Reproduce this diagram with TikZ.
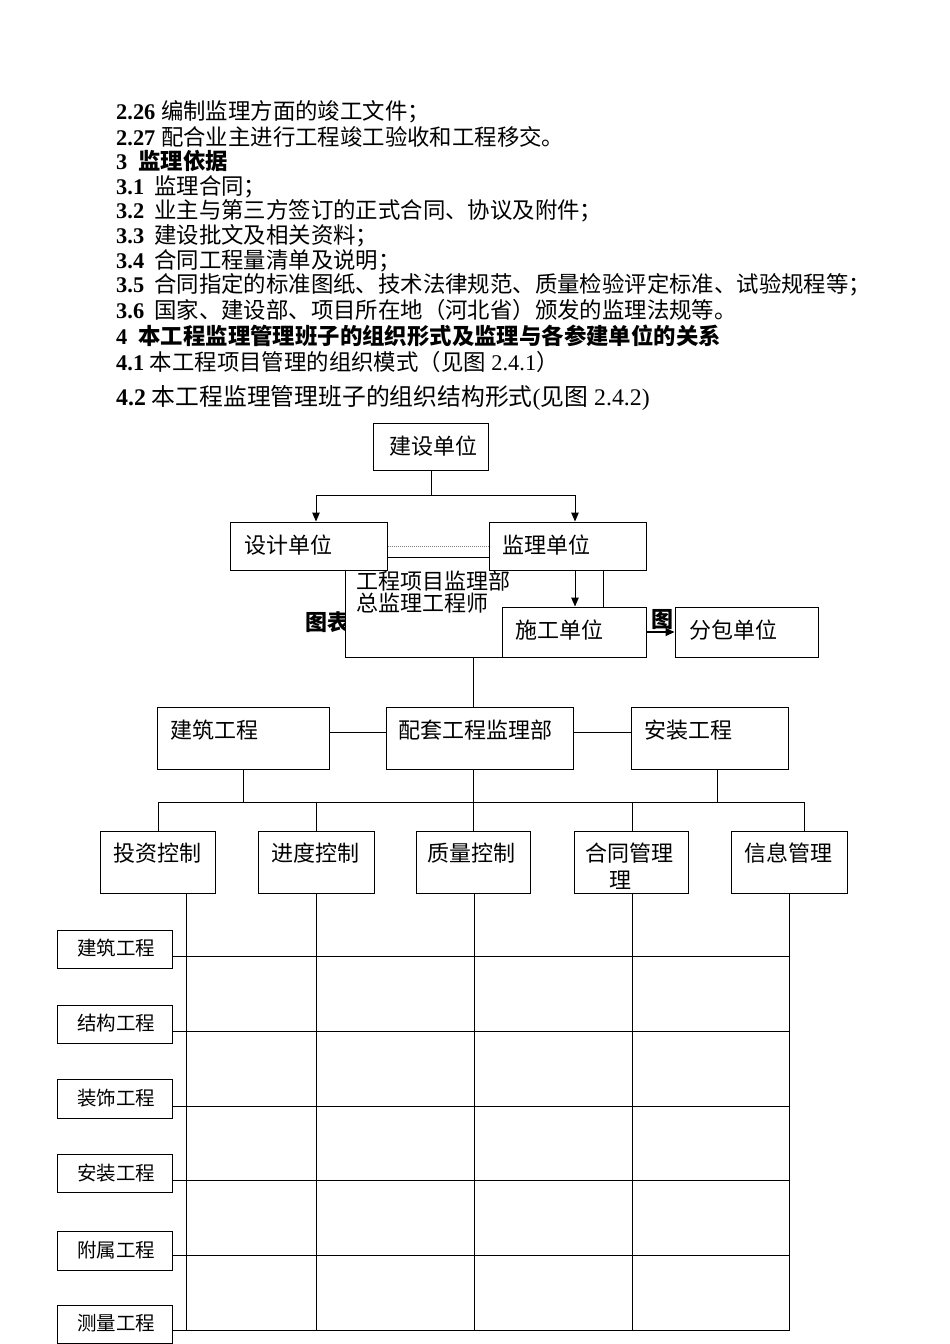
\documentclass[tikz,border=0pt]{standalone}
\usepackage{fontspec}
\setmainfont{Liberation Serif}
\newfontfamily\cjk{Noto Sans CJK SC}
\usetikzlibrary{arrows.meta,fit,calc}
\begin{document}
\begin{tikzpicture}[x=1pt,y=-1pt,
 box/.style={draw, fill=white, line width=1pt, inner sep=0pt},
 txt/.style={anchor=west, inner sep=0pt, font=\fontsize{22}{24}\selectfont\cjk},
 body/.style={anchor=west, inner sep=0pt, font=\fontsize{22.4}{25}\selectfont},
 small/.style={anchor=west, inner sep=0pt, font=\fontsize{19.5}{22}\selectfont\cjk},
 conn/.style={line width=1pt},
 arr/.style={line width=1pt, -{Triangle[length=9pt,width=7.5pt]}},
]
\useasboundingbox (0,0) rectangle (950,1344);
\fill[white] (0,0) rectangle (950,1344);

% ---------- body text ----------
\node[body] (p1) at (116,111.7) {\textbf{2.26} {\cjk 编制监理方面的竣工文件；}};
\node[body] (p2) at (116,136.7) {\textbf{2.27} {\cjk 配合业主进行工程竣工验收和工程移交。}};
\node[body] (p3) at (116,161) {\textbf{3}\hspace{11pt}{\cjk\bfseries 监理依据}};
\node[body] (p4) at (116,186.7) {\textbf{3.1}\hspace{10pt}{\cjk 监理合同；}};
\node[body] (p5) at (116,210.7) {\textbf{3.2}\hspace{10pt}{\cjk 业主与第三方签订的正式合同、协议及附件；}};
\node[body] (p6) at (116,235.7) {\textbf{3.3}\hspace{10pt}{\cjk 建设批文及相关资料；}};
\node[body] (p7) at (116,260.7) {\textbf{3.4}\hspace{10pt}{\cjk 合同工程量清单及说明；}};
\node[body] (p8) at (116,285) {\textbf{3.5}\hspace{10pt}{\cjk 合同指定的标准图纸、技术法律规范、质量检验评定标准、试验规程等；}};
\node[body] (p9) at (116,310) {\textbf{3.6}\hspace{10pt}{\cjk 国家、建设部、项目所在地（河北省）颁发的监理法规等。}};
\node[body] (p10) at (116,336) {\textbf{4}\hspace{11pt}{\cjk\bfseries 本工程监理管理班子的组织形式及监理与各参建单位的关系}};
\node[body] (p11) at (116,361.7) {\textbf{4.1} {\cjk 本工程项目管理的组织模式（见图} 2.4.1{\cjk ）}};
\node[body, font=\fontsize{23.8}{26}\selectfont] (p12) at (116,398.3) {\textbf{4.2} {\cjk 本工程监理管理班子的组织结构形式}({\cjk 见图} 2.4.2)};

% ---------- figure 2.4.1 ----------
\node[txt, font=\fontsize{22}{24}\selectfont\cjk\bfseries] (cap1) at (305,622) {图表};
\node[txt, font=\fontsize{22}{24}\selectfont\cjk\bfseries] (cap2) at (651,620) {图};

\node[box, fit={(345,557)(603,657)}] (xmb) {};
\node[txt] (xmbt1) at (356.5,581) {工程项目监理部};
\node[txt] (xmbt2) at (356.5,603) {总监理工程师};

\node[box, fit={(373.5,423)(488,470)}] (jsdw) {};
\node[txt] (jsdwt) at (389,446) {建设单位};
\node[box, fit={(230,522)(387,570)}] (sjdw) {};
\node[txt] (sjdwt) at (244,545) {设计单位};
\node[box, fit={(489,522)(646,570)}] (jldw) {};
\node[txt] (jldwt) at (502,545) {监理单位};
\node[box, fit={(502,607)(646,657)}] (sgdw) {};
\node[txt] (sgdwt) at (515,630) {施工单位};
\node[box, fit={(675,607)(818,657)}] (fbdw) {};
\node[txt] (fbdwt) at (689,630) {分包单位};

\coordinate (bm) at (431,495);
\coordinate (bl) at (316,495);
\coordinate (br) at (575,495);
\coordinate (dy) at (0,546);
\coordinate (ay) at (0,632);
\draw[conn] (jsdw.south -| bm) -- (bm);
\draw[conn] (bl) -- (br);
\draw[arr] (bl) -- (bl |- sjdw.north);
\draw[arr] (br) -- (br |- jldw.north);
\draw[densely dotted, gray, line width=1pt] (sjdw.east |- dy) -- (jldw.west |- dy);
\draw[arr] (br |- jldw.south) -- (br |- sgdw.north);
\draw[line width=2pt, -{Triangle[length=9pt,width=8pt]}] (sgdw.east |- ay) -- (fbdw.west |- ay);

% ---------- figure 2.4.2 ----------
\node[box, fit={(157.5,707)(329,769)}] (jz) {};
\node[txt] (jzt) at (170.6,730) {建筑工程};
\node[box, fit={(386.6,707)(573.9,769)}] (pt) {};
\node[txt] (ptt) at (398.6,730) {配套工程监理部};
\node[box, fit={(631.4,707)(788.8,769)}] (az) {};
\node[txt] (azt) at (644,730) {安装工程};

\coordinate (cx) at (473.5,0);
\draw[conn] (xmb.south -| cx) -- (pt.north -| cx);
\coordinate (ry) at (0,732);
\draw[conn] (jz.east |- ry) -- (pt.west |- ry);
\draw[conn] (pt.east |- ry) -- (az.west |- ry);

\coordinate (busL) at (158,802);
\coordinate (busR) at (804,802);
\draw[conn] (busL) -- (busR);
\coordinate (d1) at (243.8,802);
\coordinate (d2) at (473.5,802);
\coordinate (d3) at (717,802);
\draw[conn] (jz.south -| d1) -- (d1);
\draw[conn] (pt.south -| d2) -- (d2);
\draw[conn] (az.south -| d3) -- (d3);

\node[box, fit={(100,831)(215,893)}] (tz) {};
\node[txt] (tzt) at (113,853) {投资控制};
\node[box, fit={(258,831)(374,893)}] (jd) {};
\node[txt] (jdt) at (271.5,853) {进度控制};
\node[box, fit={(416,831)(530.5,893)}] (zl) {};
\node[txt] (zlt) at (427,853) {质量控制};
\node[box, fit={(574,831)(688.4,893)}] (ht) {};
\node[txt] (htt) at (585.4,853) {合同管理};
\node[txt] (htt2) at (609,880) {理};
\node[box, fit={(731.8,831)(847,893)}] (xx) {};
\node[txt] (xxt) at (743.8,853) {信息管理};

\coordinate (e1) at (158,802);
\coordinate (e2) at (316,802);
\coordinate (e3) at (473.5,802);
\coordinate (e4) at (632,802);
\coordinate (e5) at (804,802);
\draw[conn] (e1) -- (e1 |- tz.north);
\draw[conn] (e2) -- (e2 |- jd.north);
\draw[conn] (e3) -- (e3 |- zl.north);
\draw[conn] (e4) -- (e4 |- ht.north);
\draw[conn] (e5) -- (e5 |- xx.north);

% grid
\coordinate (g1) at (186.5,1330);
\coordinate (g2) at (316,1330);
\coordinate (g3) at (474,1330);
\coordinate (g4) at (632,1330);
\coordinate (g5) at (789.5,1330);
\draw[conn] (tz.south -| g1) -- (g1);
\draw[conn] (jd.south -| g2) -- (g2);
\draw[conn] (zl.south -| g3) -- (g3);
\draw[conn] (ht.south -| g4) -- (g4);
\draw[conn] (xx.south -| g5) -- (g5);

\node[box, fit={(57.3,930.3)(172,968.7)}] (l1) {};
\node[small] (l1t) at (77.2,948.3) {建筑工程};
\node[box, fit={(57.3,1005)(172,1043.3)}] (l2) {};
\node[small] (l2t) at (77.2,1023.3) {结构工程};
\node[box, fit={(57.3,1079.7)(172,1118)}] (l3) {};
\node[small] (l3t) at (77.2,1098.3) {装饰工程};
\node[box, fit={(57.3,1154.3)(172,1192.7)}] (l4) {};
\node[small] (l4t) at (77.2,1172.7) {安装工程};
\node[box, fit={(57.3,1231.7)(172,1270)}] (l5) {};
\node[small] (l5t) at (77.2,1250) {附属工程};
\node[box, fit={(57.3,1305)(172,1343.3)}] (l6) {};
\node[small] (l6t) at (77.2,1323.3) {测量工程};

\coordinate (h1) at (789.5,956);
\coordinate (h2) at (789.5,1031);
\coordinate (h3) at (789.5,1106);
\coordinate (h4) at (789.5,1180);
\coordinate (h5) at (789.5,1255);
\coordinate (h6) at (789.5,1330);
\draw[conn] (l1.east |- h1) -- (h1);
\draw[conn] (l2.east |- h2) -- (h2);
\draw[conn] (l3.east |- h3) -- (h3);
\draw[conn] (l4.east |- h4) -- (h4);
\draw[conn] (l5.east |- h5) -- (h5);
\draw[conn] (l6.east |- h6) -- (h6);
\end{tikzpicture}
\end{document}
